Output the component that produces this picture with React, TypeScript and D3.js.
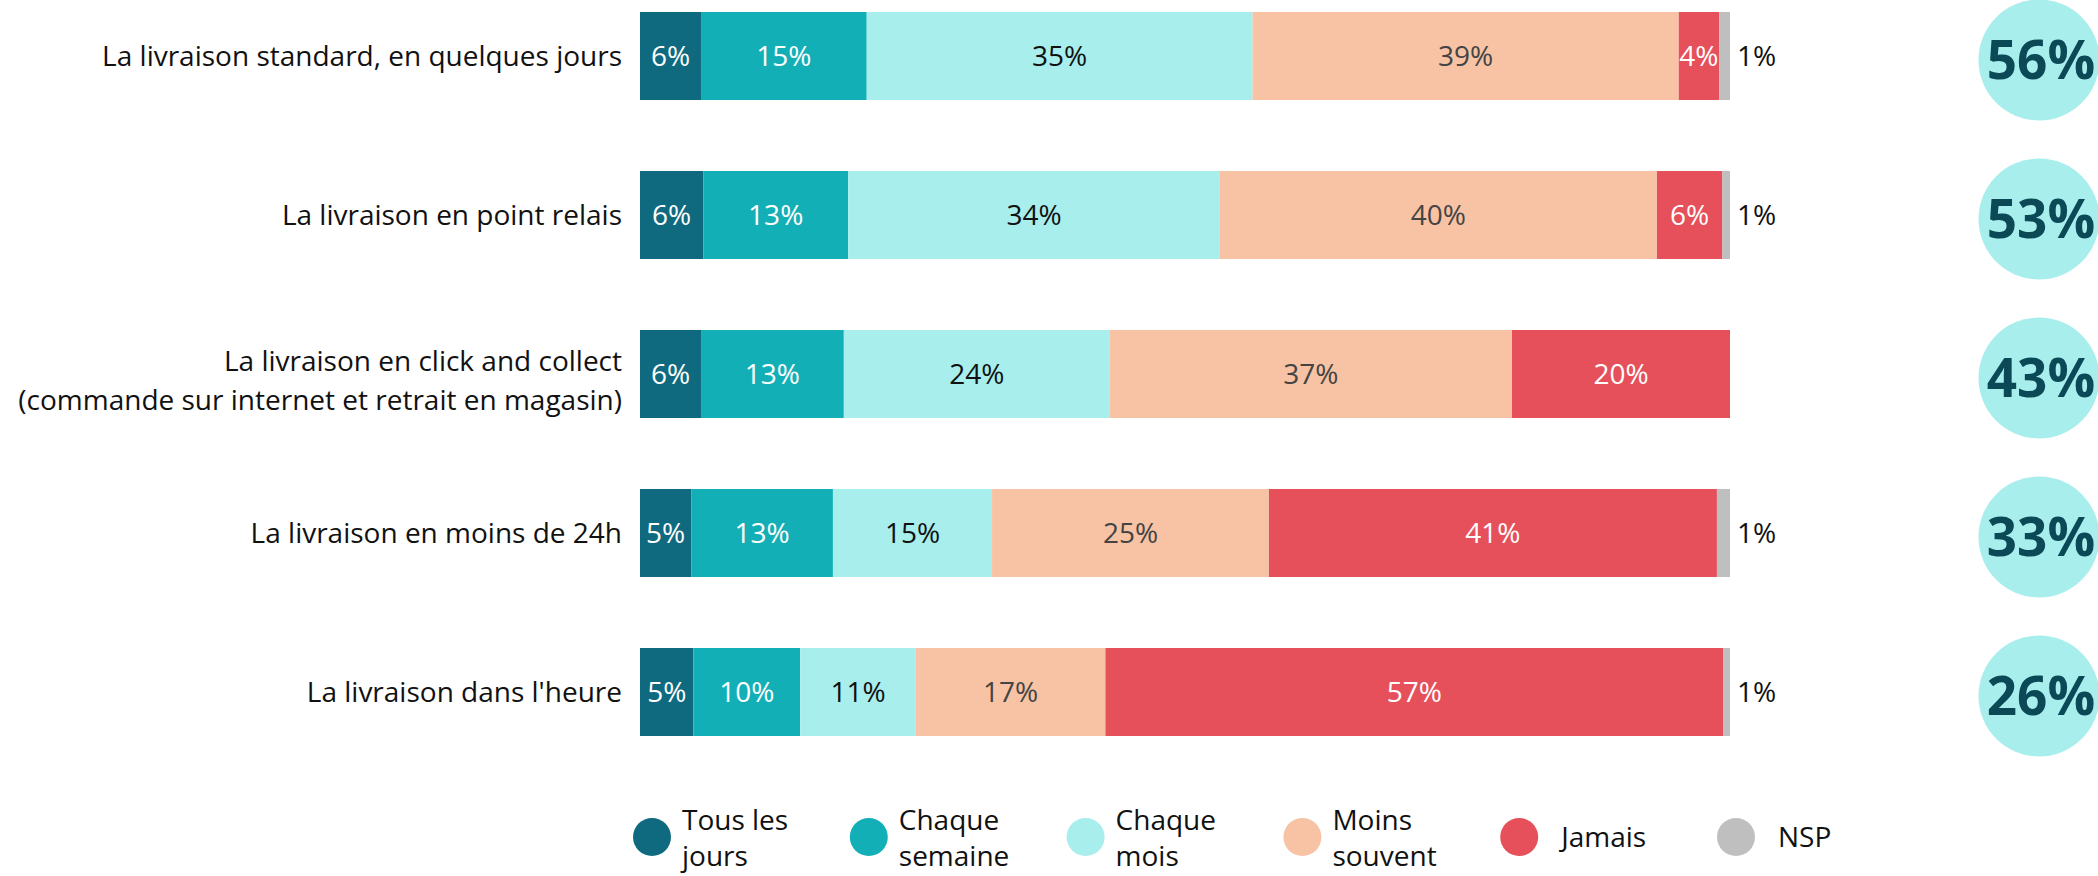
import React, { useEffect, useRef } from 'react';
import * as d3 from 'd3';

const categories = [
  ['La livraison standard, en quelques jours'],
  ['La livraison en point relais'],
  ['La livraison en click and collect', '(commande sur internet et retrait en magasin)'],
  ['La livraison en moins de 24h'],
  ["La livraison dans l'heure"],
];

const seriesKeys = ['tous', 'semaine', 'mois', 'moins', 'jamais', 'nsp'];
const seriesLabels = [
  ['Tous les', 'jours'],
  ['Chaque', 'semaine'],
  ['Chaque', 'mois'],
  ['Moins', 'souvent'],
  ['Jamais'],
  ['NSP'],
];

// share of respondents per category (rows in the same order as categories)
const tousLesJours = [5.6, 5.8, 5.6, 4.7, 4.9];
const chaqueSemaine = [15.2, 13.3, 13.1, 13.0, 9.8];
const chaqueMois = [35.4, 34.1, 24.4, 14.6, 10.6];
const moinsSouvent = [39.1, 40.1, 36.9, 25.4, 17.4];
const jamais = [3.7, 6.0, 20.0, 41.1, 56.7];
const nsp = [1.0, 0.7, 0, 1.2, 0.6];

// "au moins une fois par mois" totals shown in the bubbles
const totals = [56, 53, 43, 33, 26];

const colors = ['#0f6a7f', '#13afb7', '#a7eeed', '#f7c3a4', '#e6505a', '#bfbfbf'];
const labelColors = ['#ffffff', '#ffffff', '#111111', '#444444', '#ffffff', '#111111'];

const App: React.FC = () => {
  const svgRef = useRef<SVGSVGElement>(null);

  useEffect(() => {
    if (!svgRef.current) return;
    const svg = d3.select(svgRef.current);
    svg.selectAll('*').remove();

    const width = 2098;
    const height = 876;
    const font = "'Open Sans', sans-serif";

    const rows = categories.map((c, i) => ({
      id: String(i),
      tous: tousLesJours[i],
      semaine: chaqueSemaine[i],
      mois: chaqueMois[i],
      moins: moinsSouvent[i],
      jamais: jamais[i],
      nsp: nsp[i],
    }));

    const x = d3.scaleLinear().domain([0, 100]).range([640, 1730]);
    const y = d3.scaleBand()
      .domain(rows.map(d => d.id))
      .range([12, 736])
      .paddingInner(0.4465)
      .paddingOuter(0);

    const stack = d3.stack<any>().keys(seriesKeys);
    const layers = stack(rows);

    svg.attr('width', width).attr('height', height);

    const g = svg.append('g');

    // bars
    layers.forEach((layer, si) => {
      const lg = g.append('g');
      lg.selectAll('rect')
        .data(layer)
        .enter()
        .append('rect')
        .attr('x', d => x(d[0]))
        .attr('y', d => y(d.data.id)!)
        .attr('width', d => Math.max(0, x(d[1]) - x(d[0])))
        .attr('height', y.bandwidth())
        .attr('fill', colors[si]);

      const isNsp = seriesKeys[si] === 'nsp';
      lg.selectAll('text')
        .data(layer.filter(d => d[1] - d[0] > 0))
        .enter()
        .append('text')
        .attr('x', d => isNsp ? x(d[1]) + 7 : (x(d[0]) + x(d[1])) / 2)
        .attr('y', d => y(d.data.id)! + y.bandwidth() / 2 + 10)
        .attr('text-anchor', isNsp ? 'start' : 'middle')
        .attr('fill', labelColors[si])
        .attr('font-family', font)
        .attr('font-size', 28)
        .text(d => `${Math.round(d[1] - d[0])}%`);
    });

    // category labels
    categories.forEach((lines, i) => {
      const cy = y(String(i))! + y.bandwidth() / 2;
      const t = g.append('text')
        .attr('text-anchor', 'end')
        .attr('fill', '#111')
        .attr('font-family', font)
        .attr('font-size', 28);
      const lh = 39;
      const start = cy + 10 - ((lines.length - 1) * lh) / 2 + (lines.length > 1 ? 6 : 0);
      lines.forEach((line, li) => {
        t.append('tspan')
          .attr('x', 622)
          .attr('y', start + li * lh)
          .text(line);
      });
    });

    // bubbles with totals
    const bubbles = g.selectAll('.bubble')
      .data(totals)
      .enter()
      .append('g')
      .attr('class', 'bubble');

    bubbles.append('circle')
      .attr('cx', 2039)
      .attr('cy', (d, i) => y(String(i))! + y.bandwidth() / 2 + 4)
      .attr('r', 60.5)
      .attr('fill', '#a7eeed');

    bubbles.append('text')
      .attr('x', 2041)
      .attr('y', (d, i) => y(String(i))! + y.bandwidth() / 2 + 4 + 19)
      .attr('text-anchor', 'middle')
      .attr('fill', '#0b4956')
      .attr('font-family', font)
      .attr('font-weight', 'bold')
      .attr('font-size', 53)
      .text(d => `${d}%`);

    // legend
    const legendX = d3.scaleLinear().domain([0, 5]).range([652, 1736]);
    const legendY = 837;
    const legend = g.selectAll('.legend-item')
      .data(seriesLabels)
      .enter()
      .append('g')
      .attr('class', 'legend-item');

    legend.append('circle')
      .attr('cx', (d, i) => legendX(i))
      .attr('cy', legendY)
      .attr('r', 19)
      .attr('fill', (d, i) => colors[i]);

    legend.each(function (lines, i) {
      const t = d3.select(this).append('text')
        .attr('fill', '#111')
        .attr('font-family', font)
        .attr('font-size', 28);
      const lh = 36;
      const single = lines.length === 1;
      const start = single ? legendY + 10 : legendY - 7;
      lines.forEach((line, li) => {
        t.append('tspan')
          .attr('x', legendX(i) + (single ? 42 : 30))
          .attr('y', start + li * lh)
          .text(line);
      });
    });
  }, []);

  return (
    <div style={{ position: 'absolute', left: 0, top: 0 }}>
      <svg ref={svgRef} style={{ display: 'block' }}></svg>
    </div>
  );
};

export default App;
